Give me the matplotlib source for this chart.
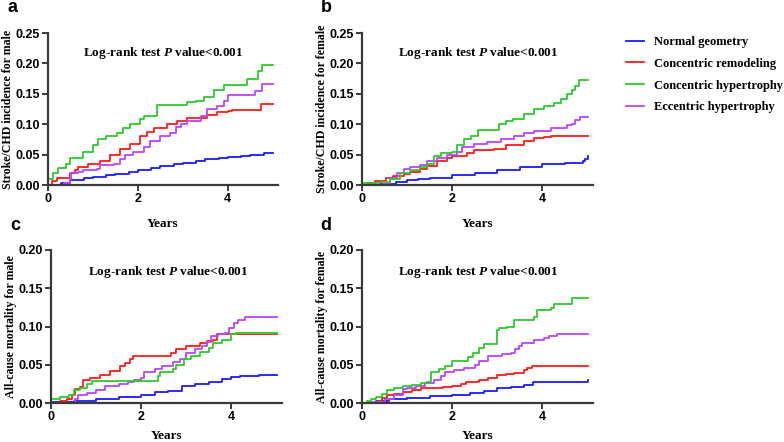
import matplotlib
matplotlib.use("Agg")
import matplotlib.pyplot as plt

plt.rcParams['mathtext.fontset'] = 'custom'
plt.rcParams['mathtext.bfit'] = 'Liberation Serif:italic:bold'
plt.rcParams['mathtext.rm'] = 'Liberation Serif:bold'

groups = ['Normal geometry', 'Concentric remodeling', 'Concentric hypertrophy', 'Eccentric hypertrophy']
colors = ['#1a1aff', '#ff1a1a', '#2ec82e', '#b845ff']

#---------a: stroke/CHD, male----------
a_normal_t = [0, 0.3, 0.5, 0.8, 1.0, 1.3, 1.5, 1.8, 2.0, 2.3, 2.5, 2.8, 3.0, 3.3, 3.5, 3.8, 4.0, 4.3, 4.5, 4.7, 4.8, 5.0]
a_normal_y = [0, 0.004, 0.008, 0.011, 0.013, 0.016, 0.018, 0.021, 0.025, 0.028, 0.031, 0.034, 0.037, 0.04, 0.042, 0.044, 0.046, 0.048, 0.049, 0.050, 0.052, 0.052]
a_remod_t = [0, 0.1, 0.19, 0.49, 0.6, 0.67, 0.9, 1.16, 1.38, 1.6, 1.83, 2.05, 2.2, 2.35, 2.55, 2.65, 2.87, 3.1, 3.45, 3.54, 3.77, 4.0, 4.1, 4.75, 5.0]
a_remod_y = [0, 0.006, 0.012, 0.02, 0.025, 0.03, 0.034, 0.04, 0.05, 0.06, 0.068, 0.08, 0.087, 0.093, 0.093, 0.1, 0.105, 0.11, 0.11, 0.115, 0.12, 0.122, 0.124, 0.133, 0.133]
a_conc_t = [0, 0.11, 0.22, 0.41, 0.49, 0.78, 1.0, 1.12, 1.3, 1.53, 1.68, 1.83, 2.05, 2.13, 2.43, 2.87, 3.1, 3.3, 3.47, 3.69, 3.92, 4.44, 4.68, 4.76, 5.0]
a_conc_y = [0.01, 0.02, 0.028, 0.035, 0.045, 0.055, 0.065, 0.075, 0.08, 0.085, 0.093, 0.1, 0.108, 0.114, 0.131, 0.131, 0.137, 0.138, 0.145, 0.157, 0.165, 0.175, 0.187, 0.198, 0.198]
a_ecc_t = [0, 0.35, 0.49, 0.52, 0.67, 0.78, 1.08, 1.16, 1.46, 1.6, 1.72, 1.9, 2.13, 2.28, 2.5, 2.72, 2.84, 2.95, 3.1, 3.4, 3.54, 3.77, 3.92, 4.0, 4.5, 4.6, 4.77, 5.0]
a_ecc_y = [0, 0.004, 0.01, 0.02, 0.022, 0.025, 0.027, 0.033, 0.035, 0.042, 0.05, 0.055, 0.063, 0.072, 0.08, 0.085, 0.095, 0.1, 0.105, 0.113, 0.125, 0.13, 0.138, 0.148, 0.148, 0.155, 0.166, 0.166]

#---------b: stroke/CHD, female----------
b_normal_t = [0, 0.4, 0.5, 0.75, 1.0, 1.25, 1.5, 2.0, 2.5, 3.0, 3.5, 4.0, 4.5, 4.9, 4.95, 5.0]
b_normal_y = [0, 0.001, 0.002, 0.005, 0.008, 0.010, 0.012, 0.016, 0.020, 0.024, 0.029, 0.034, 0.037, 0.039, 0.043, 0.047]
b_remod_t = [0, 0.1, 0.28, 0.54, 0.69, 0.92, 1.07, 1.29, 1.44, 1.66, 1.89, 2.0, 2.33, 2.48, 2.93, 3.2, 3.6, 3.81, 4.03, 4.2, 5.0]
b_remod_y = [0, 0.003, 0.007, 0.012, 0.015, 0.018, 0.022, 0.027, 0.032, 0.04, 0.045, 0.048, 0.052, 0.058, 0.06, 0.065, 0.072, 0.077, 0.079, 0.080, 0.080]
b_conc_t = [0, 0.17, 0.4, 0.62, 0.84, 1.07, 1.29, 1.44, 1.59, 1.74, 2.0, 2.11, 2.26, 2.41, 2.56, 3.03, 3.2, 3.35, 3.6, 3.81, 4.03, 4.25, 4.4, 4.55, 4.66, 4.73, 4.82, 5.0]
b_conc_y = [0.003, 0.004, 0.005, 0.01, 0.02, 0.025, 0.03, 0.035, 0.048, 0.052, 0.055, 0.065, 0.075, 0.08, 0.09, 0.1, 0.105, 0.109, 0.117, 0.125, 0.13, 0.135, 0.141, 0.149, 0.157, 0.163, 0.173, 0.173]
b_ecc_t = [0, 0.47, 0.62, 0.77, 0.92, 1.07, 1.29, 1.44, 1.66, 1.89, 2.11, 2.22, 2.48, 2.78, 3.07, 3.37, 3.6, 3.81, 4.18, 4.55, 4.66, 4.73, 4.84, 5.0]
b_ecc_y = [0, 0.002, 0.012, 0.02, 0.027, 0.03, 0.033, 0.04, 0.045, 0.05, 0.055, 0.063, 0.067, 0.07, 0.075, 0.08, 0.085, 0.088, 0.093, 0.099, 0.101, 0.107, 0.112, 0.112]

#---------c: all-cause mortality, male----------
c_normal_t = [0, 0.5, 1.0, 1.5, 2.0, 2.3, 2.6, 2.9, 3.2, 3.5, 3.8, 4.0, 4.2, 4.6, 5.0]
c_normal_y = [0.001, 0.003, 0.005, 0.008, 0.011, 0.014, 0.016, 0.022, 0.025, 0.028, 0.032, 0.034, 0.035, 0.036, 0.036]
c_remod_t = [0, 0.2, 0.35, 0.46, 0.53, 0.64, 0.72, 0.86, 1.08, 1.3, 1.53, 1.64, 1.75, 1.82, 2.63, 2.67, 2.78, 3.0, 3.3, 3.45, 3.6, 3.67, 5.0]
c_remod_y = [0, 0.002, 0.005, 0.01, 0.018, 0.021, 0.03, 0.033, 0.036, 0.042, 0.048, 0.052, 0.057, 0.061, 0.061, 0.066, 0.071, 0.074, 0.078, 0.081, 0.083, 0.09, 0.09]
c_conc_t = [0, 0.2, 0.4, 0.5, 0.64, 0.79, 0.9, 2.34, 2.37, 2.42, 2.64, 2.7, 2.78, 2.95, 3.1, 3.3, 3.5, 3.6, 3.8, 4.0, 4.1, 5.0]
c_conc_y = [0.005, 0.008, 0.01, 0.017, 0.02, 0.025, 0.029, 0.029, 0.035, 0.04, 0.04, 0.045, 0.05, 0.058, 0.062, 0.067, 0.072, 0.079, 0.083, 0.09, 0.092, 0.092]
c_ecc_t = [0, 0.53, 0.6, 0.8, 1.0, 1.2, 1.5, 1.7, 1.85, 2.0, 2.07, 2.3, 2.45, 2.7, 2.85, 3.0, 3.2, 3.35, 3.45, 3.55, 3.7, 3.85, 3.95, 4.05, 4.15, 4.3, 5.0]
c_ecc_y = [0, 0.005, 0.01, 0.013, 0.017, 0.022, 0.025, 0.027, 0.03, 0.033, 0.041, 0.045, 0.048, 0.053, 0.058, 0.065, 0.07, 0.075, 0.08, 0.088, 0.09, 0.092, 0.098, 0.104, 0.109, 0.112, 0.112]

#---------d: all-cause mortality, female----------
d_normal_t = [0, 0.3, 0.6, 1.0, 1.5, 2.0, 2.4, 2.7, 3.0, 3.3, 3.6, 3.8, 4.2, 4.9, 5.0]
d_normal_y = [0, 0.002, 0.005, 0.007, 0.009, 0.011, 0.013, 0.016, 0.019, 0.021, 0.024, 0.027, 0.028, 0.028, 0.030]
d_remod_t = [0, 0.3, 0.35, 0.45, 0.55, 0.7, 0.9, 1.1, 1.3, 1.5, 1.8, 2.0, 2.2, 2.3, 2.6, 2.8, 3.0, 3.2, 3.36, 3.58, 3.66, 3.77, 5.0]
d_remod_y = [0, 0.001, 0.003, 0.006, 0.01, 0.012, 0.015, 0.017, 0.019, 0.02, 0.021, 0.022, 0.025, 0.027, 0.03, 0.033, 0.036, 0.038, 0.039, 0.043, 0.046, 0.048, 0.048]
d_conc_t = [0, 0.1, 0.2, 0.3, 0.45, 0.55, 0.7, 0.9, 1.1, 1.3, 1.45, 1.52, 1.7, 1.85, 2.0, 2.35, 2.45, 2.6, 2.7, 3.0, 3.04, 3.22, 3.36, 3.81, 3.88, 4.18, 4.25, 4.66, 5.0]
d_conc_y = [0, 0.002, 0.005, 0.008, 0.012, 0.017, 0.02, 0.022, 0.024, 0.026, 0.028, 0.041, 0.045, 0.048, 0.055, 0.06, 0.065, 0.072, 0.077, 0.095, 0.098, 0.1, 0.109, 0.113, 0.121, 0.124, 0.13, 0.137, 0.137]
d_ecc_t = [0, 0.2, 0.5, 0.7, 0.9, 1.0, 1.2, 1.4, 1.6, 1.75, 1.85, 2.05, 2.25, 2.5, 2.6, 2.8, 3.1, 3.3, 3.4, 3.48, 3.55, 3.81, 4.03, 4.14, 4.33, 5.0]
d_ecc_y = [0, 0.001, 0.005, 0.01, 0.018, 0.02, 0.022, 0.026, 0.03, 0.035, 0.04, 0.043, 0.046, 0.05, 0.055, 0.062, 0.064, 0.066, 0.07, 0.074, 0.079, 0.083, 0.085, 0.088, 0.090, 0.090]

panels = [
    ('a', 'Stroke/CHD incidence for male', 0.25,
     [(a_normal_t, a_normal_y), (a_remod_t, a_remod_y), (a_conc_t, a_conc_y), (a_ecc_t, a_ecc_y)],
     [48, 33, 278, 185], (0.152, 0.87), 9),
    ('b', 'Stroke/CHD incidence for female', 0.25,
     [(b_normal_t, b_normal_y), (b_remod_t, b_remod_y), (b_conc_t, b_conc_y), (b_ecc_t, b_ecc_y)],
     [362, 33, 593, 185], (0.155, 0.87), 9),
    ('c', 'All-cause mortality for male', 0.20,
     [(c_normal_t, c_normal_y), (c_remod_t, c_remod_y), (c_conc_t, c_conc_y), (c_ecc_t, c_ecc_y)],
     [51, 250, 282, 403], (0.16, 0.855), 5),
    ('d', 'All-cause mortality for female', 0.20,
     [(d_normal_t, d_normal_y), (d_remod_t, d_remod_y), (d_conc_t, d_conc_y), (d_ecc_t, d_ecc_y)],
     [362, 250, 593, 403], (0.155, 0.855), 5),
]

W, H = 784, 442
fig = plt.figure(figsize=(7.84, 4.42), dpi=100)
spine_col = '#3a3a3a'

for letter, ylab, ymax, series, box, txt_pos, xpad in panels:
    x0, y0, x1, y1 = box
    ax = fig.add_axes([x0 / W, 1 - y1 / H, (x1 - x0) / W, (y1 - y0) / H])
    # normal, remodeling, eccentric, then concentric hypertrophy on top
    for i in [0, 1, 3, 2]:
        t, v = series[i]
        ax.plot(t, v, drawstyle='steps-post', color=colors[i], lw=1.3, label=groups[i])
    ax.set_xlim(0, 5.12)
    ax.set_ylim(0, ymax)
    ax.set_xticks([0, 2, 4])
    ax.set_yticks([k * 0.05 for k in range(int(round(ymax / 0.05)) + 1)])
    ax.yaxis.set_major_formatter(plt.FormatStrFormatter('%.2f'))
    for s in ['top', 'right']:
        ax.spines[s].set_visible(False)
    for s in ['left', 'bottom']:
        ax.spines[s].set_linewidth(1.6)
        ax.spines[s].set_color(spine_col)
    ax.tick_params(width=1.4, length=4, color=spine_col, pad=2)
    for lab in ax.get_xticklabels() + ax.get_yticklabels():
        lab.set_fontfamily('Liberation Sans')
        lab.set_fontweight('bold')
        lab.set_fontsize(9)
    ax.set_xlabel('Years', fontfamily='Liberation Serif', fontweight='bold', fontsize=9.5, labelpad=xpad)
    ax.set_ylabel(ylab, fontfamily='Liberation Serif', fontweight='bold', fontsize=8.6, labelpad=1)
    ax.text(txt_pos[0], txt_pos[1], r'Log-rank test $\mathbfit{P}$ value<0.001', transform=ax.transAxes,
            fontfamily='Liberation Serif', fontweight='bold', fontsize=9.5, va='center')
    fig.text((x0 - 36) / W, 1 - (y0 - 25) / H, letter, fontfamily='Liberation Sans',
             fontweight='bold', fontsize=13, ha='center', va='center')

handles, labels = ax.get_legend_handles_labels()
order = [labels.index(g) for g in groups]
fig.legend([handles[k] for k in order], groups, loc='upper left', bbox_to_anchor=(626 / W, 1 - 36 / H),
           frameon=False, prop={'family': 'Liberation Serif', 'weight': 'bold', 'size': 9},
           handlelength=1.4, handletextpad=0.85, labelspacing=0.78, borderpad=0, borderaxespad=0)

fig.savefig('out.png', dpi=100)
